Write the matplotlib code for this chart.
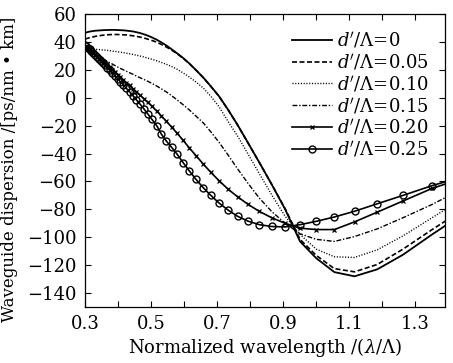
import matplotlib
matplotlib.use("Agg")
import matplotlib.pyplot as plt
from matplotlib.ticker import MultipleLocator

plt.rcParams['font.family'] = ['DejaVu Serif']
plt.rcParams['mathtext.fontset'] = 'dejavuserif'

# normalized wavelength sample points (shared by all curves)
wl = [0.300, 0.304, 0.309, 0.314, 0.319, 0.325, 0.330, 0.336, 0.342, 0.348,
      0.355, 0.361, 0.368, 0.375, 0.383, 0.391, 0.399, 0.407, 0.416, 0.425,
      0.435, 0.445, 0.455, 0.466, 0.478, 0.490, 0.503, 0.517, 0.531, 0.546,
      0.562, 0.579, 0.597, 0.616, 0.636, 0.658, 0.681, 0.706, 0.733, 0.762,
      0.794, 0.828, 0.865, 0.906, 0.951, 1.000, 1.055, 1.116, 1.185, 1.263,
      1.351, 1.453]

d_000 = [46.5, 46.8, 47.1, 47.4, 47.6, 47.8, 48.0, 48.1, 48.2, 48.3,
         48.4, 48.5, 48.5, 48.6, 48.6, 48.6, 48.5, 48.4, 48.3, 48.1,
         47.8, 47.5, 47.0, 46.4, 45.5, 44.5, 43.2, 41.6, 39.7, 37.5,
         34.8, 31.8, 28.5, 24.5, 19.8, 14.5, 8.2, 1.0, -8.5, -19.5,
         -32.5, -46.5, -62.0, -80.0, -103.0, -115.0, -125.0, -128.0, -123.0, -112.5,
         -98.0, -82.0]

d_005 = [42.0, 42.3, 42.7, 43.0, 43.3, 43.6, 43.9, 44.2, 44.4, 44.6,
         44.8, 45.0, 45.1, 45.2, 45.3, 45.3, 45.3, 45.2, 45.1, 45.0,
         44.7, 44.4, 44.0, 43.5, 42.8, 42.0, 41.0, 39.8, 38.2, 36.4,
         34.2, 31.5, 28.3, 24.4, 19.8, 14.4, 8.1, 0.9, -8.6, -19.6,
         -32.6, -46.5, -62.0, -79.5, -101.5, -113.0, -122.5, -124.8, -119.5, -108.5,
         -94.5, -79.0]

d_010 = [35.0, 35.0, 35.0, 34.9, 34.9, 34.8, 34.7, 34.6, 34.5, 34.4,
         34.2, 34.1, 33.9, 33.7, 33.4, 33.2, 32.9, 32.6, 32.3, 31.9,
         31.5, 31.0, 30.5, 29.9, 29.2, 28.4, 27.5, 26.5, 25.3, 24.0,
         22.4, 20.4, 17.8, 14.8, 11.3, 7.0, 1.0, -6.5, -17.0, -27.5,
         -40.5, -54.5, -69.5, -85.0, -98.0, -108.5, -114.0, -114.5, -109.0, -99.0,
         -86.0, -71.0]

d_015 = [34.0, 33.5, 33.0, 32.4, 31.8, 31.1, 30.5, 29.8, 29.1, 28.4,
         27.6, 26.9, 26.0, 25.1, 24.1, 23.0, 22.0, 21.0, 20.0, 19.0,
         17.9, 16.8, 15.6, 14.4, 13.1, 11.8, 10.2, 8.4, 6.4, 4.2,
         1.5, -1.6, -5.0, -8.8, -13.2, -18.0, -24.5, -32.0, -41.0, -51.0,
         -61.5, -72.0, -81.5, -90.0, -97.5, -101.5, -103.0, -99.5, -94.0, -86.0,
         -76.5, -64.0]

d_020 = [36.5, 35.8, 35.0, 34.1, 33.1, 32.0, 31.0, 29.8, 28.6, 27.4,
         26.0, 24.7, 23.2, 21.7, 20.0, 18.3, 16.6, 14.8, 12.9, 10.9,
         8.8, 6.6, 4.4, 2.0, -0.6, -3.3, -6.2, -9.5, -13.0, -16.8,
         -21.0, -25.5, -30.5, -36.0, -41.5, -47.5, -53.5, -59.5, -65.5, -71.0,
         -76.5, -81.5, -86.0, -90.0, -93.5, -94.5, -94.5, -89.0, -82.0, -74.0,
         -65.0, -57.0]

d_025 = [38.0, 37.0, 35.8, 34.6, 33.4, 32.0, 30.8, 29.3, 27.8, 26.3,
         24.6, 23.1, 21.3, 19.6, 17.6, 15.6, 13.5, 11.5, 9.2, 6.8,
         4.2, 1.5, -1.3, -4.4, -7.9, -11.6, -15.6, -20.0, -26.0, -31.0,
         -35.5, -40.5, -46.5, -52.5, -58.5, -64.5, -70.0, -75.5, -80.5, -85.0,
         -88.5, -91.0, -92.3, -92.6, -91.0, -88.6, -85.5, -81.4, -76.0, -70.0,
         -63.0, -56.0]

labels = [r"$d'/\mathit{\Lambda}$=0", r"$d'/\mathit{\Lambda}$=0.05",
          r"$d'/\mathit{\Lambda}$=0.10", r"$d'/\mathit{\Lambda}$=0.15",
          r"$d'/\mathit{\Lambda}$=0.20", r"$d'/\mathit{\Lambda}$=0.25"]

xticks = [0.3, 0.5, 0.7, 0.9, 1.1, 1.3]
yticks = [-140, -120, -100, -80, -60, -40, -20, 0, 20, 40, 60]

fig = plt.figure(figsize=(4.53, 3.63), dpi=100)
ax = fig.add_axes([85/453, 56/363, 360/453, 293/363])

k = dict(color='black', clip_on=True)
ax.plot(wl, d_000, '-', lw=1.3, label=labels[0], **k)
ax.plot(wl, d_005, lw=1.2, dashes=(3.0, 1.5), label=labels[1], **k)
ax.plot(wl, d_010, lw=1.0, dashes=(0.8, 1.2), label=labels[2], **k)
ax.plot(wl, d_015, lw=1.0, dashes=(3.5, 1.3, 1.0, 1.3), label=labels[3], **k)
ax.plot(wl, d_020, '-', lw=1.2, marker='x', ms=2.6, mew=0.9, label=labels[4], **k)
ax.plot(wl, d_025, '-', lw=1.2, marker='o', ms=5, mew=1.0, mfc='none', label=labels[5], **k)

ax.set_xlim(0.3, 1.39)
ax.set_ylim(-150, 60)
ax.set_xticks(xticks)
ax.set_xticklabels([f"{v:.1f}" for v in xticks])
ax.xaxis.set_minor_locator(MultipleLocator(0.1))
ax.set_yticks(yticks)
ax.set_yticklabels([f"{v}".replace('-', '\u2212') for v in yticks])

ax.tick_params(which='both', direction='in', top=True, right=True, labelsize=13, pad=6)
ax.tick_params(which='major', length=4, width=0.8)
ax.tick_params(which='minor', length=4, width=0.8)
for s in ax.spines.values():
    s.set_linewidth(0.9)

ax.set_xlabel(r"Normalized wavelength /($\lambda$/Λ)", fontsize=13, labelpad=2)
ax.set_ylabel("Waveguide dispersion /[ps/nm • km]", fontsize=12, labelpad=1)
ax.yaxis.set_label_coords(-0.185, 0.47)

leg = ax.legend(loc='upper left', bbox_to_anchor=(0.575, 0.945), frameon=False,
                fontsize=13, handlelength=2.2, handletextpad=0.3,
                labelspacing=0.1, borderpad=0, borderaxespad=0)

fig.savefig("out.png", dpi=100)
